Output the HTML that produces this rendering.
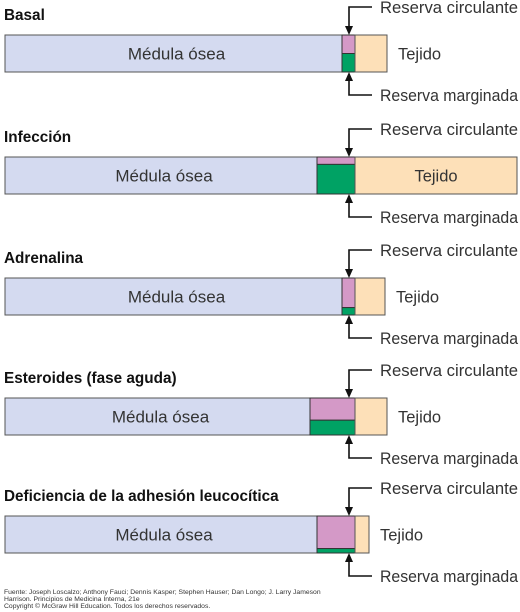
<!DOCTYPE html>
<html><head><meta charset="utf-8">
<style>
html,body{margin:0;padding:0;background:#fff;width:520px;height:612px;overflow:hidden}
svg{display:block;font-family:"Liberation Sans",sans-serif}
</style></head>
<body>
<svg id="chart" width="520" height="612" viewBox="0 0 520 612"></svg>
<script>
const titles = ["Basal","Infección","Adrenalina","Esteroides (fase aguda)","Deficiencia de la adhesión leucocítica"];
const marrowEnd = [342,317,342,310,317];
const poolEnd = [355,355,355,355,355];
const tissueEnd = [387,517,385,387,369];
const circulatingFrac = [0.5,0.2,0.8,0.6,0.88];
const barTops = [35,157,278,398,516];
const barHeight = 37;

const svg = document.getElementById('chart');
const NS = 'http://www.w3.org/2000/svg';
function mk(tag, attrs, parent){
  const e = document.createElementNS(NS, tag);
  for (const k in attrs) e.setAttribute(k, attrs[k]);
  (parent||svg).appendChild(e);
  return e;
}
const ax = 349;
titles.forEach((t,i)=>{
  const g = mk('g',{});
  
  
  const top = barTops[i], bot = top+barHeight;
  const tt = mk('text',{x:4,y:top-15,'font-size':15.3,'font-weight':'bold',fill:'#111'},g);
  tt.textContent = t;
  
  
  const m = mk('rect',{x:5,y:top,width:marrowEnd[i]-5,height:barHeight,fill:'#d4daf0',stroke:'#555','stroke-width':1},g);
  
  
  const mt = mk('text',{x:(5+Math.min(marrowEnd[i],342))/2+3,y:top+barHeight/2+6,'font-size':17,fill:'#333','text-anchor':'middle'},g);
  mt.textContent = 'Médula ósea';
  
  
  const split = top + barHeight*circulatingFrac[i];
  const pw = poolEnd[i]-marrowEnd[i];
  const c = mk('rect',{x:marrowEnd[i],y:top,width:pw,height:split-top,fill:'#d499c7',stroke:'#333','stroke-width':1},g);
  
  
  const mg = mk('rect',{x:marrowEnd[i],y:split,width:pw,height:bot-split,fill:'#00a264',stroke:'#333','stroke-width':1},g);
  
  
  const ts = mk('rect',{x:poolEnd[i],y:top,width:tissueEnd[i]-poolEnd[i],height:barHeight,fill:'#fde0b8',stroke:'#555','stroke-width':1},g);
  
  
  const tx = tissueEnd[i] > 450 ? (poolEnd[i]+tissueEnd[i])/2 : tissueEnd[i]+11;
  const tl = mk('text',{x:tx,y:top+barHeight/2+6,'font-size':16.5,fill:'#333','text-anchor':tissueEnd[i]>450?'middle':'start'},g);
  tl.textContent = 'Tejido';
  
  
  const ty = top-28;
  const a1 = mk('path',{d:`M372 ${ty} H${ax} V${top-8}`,fill:'none',stroke:'#111','stroke-width':1.6},g);
  
  
  mk('path',{d:`M${ax-4} ${top-9} L${ax+4} ${top-9} L${ax} ${top} Z`,fill:'#111'},g);
  const ct = mk('text',{x:380,y:ty+6,'font-size':16.5,fill:'#333',textLength:138,lengthAdjust:'spacingAndGlyphs'},g);
  ct.textContent = 'Reserva circulante';
  
  
  const by = bot+23;
  const a2 = mk('path',{d:`M372 ${by} H${ax} V${bot+8}`,fill:'none',stroke:'#111','stroke-width':1.6},g);
  
  
  mk('path',{d:`M${ax-4} ${bot+9} L${ax+4} ${bot+9} L${ax} ${bot} Z`,fill:'#111'},g);
  const bt = mk('text',{x:380,y:by+6,'font-size':16.5,fill:'#333',textLength:138,lengthAdjust:'spacingAndGlyphs'},g);
  bt.textContent = 'Reserva marginada';
  
  
});
const foot = ["Fuente: Joseph Loscalzo; Anthony Fauci; Dennis Kasper; Stephen Hauser; Dan Longo; J. Larry Jameson","Harrison. Principios de Medicina Interna, 21e","Copyright © McGraw Hill Education. Todos los derechos reservados."];
foot.forEach((f,i)=>{
  const t = mk('text',{x:4,y:594+i*7,'font-size':6.8,fill:'#333'});
  t.textContent = f;
  
  
});
</script>
</body></html>
